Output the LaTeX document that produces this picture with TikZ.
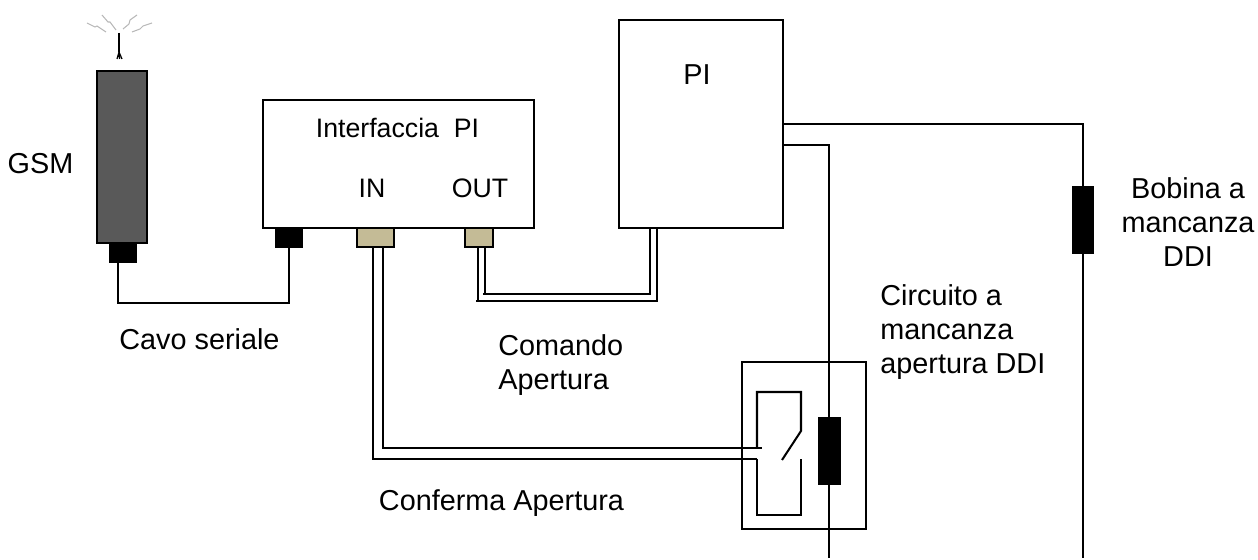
\documentclass[tikz,border=0pt]{standalone}
\usepackage{fontspec}
\setmainfont{Liberation Sans}
\usetikzlibrary{positioning}
\definecolor{gsmGrey}{HTML}{595959}
\definecolor{plugTan}{HTML}{C4BB96}
\definecolor{sparkGrey}{HTML}{B8B8B8}
\tikzset{
  wire/.style      = {black, line width=1.15pt},
  boxnode/.style   = {draw=black, line width=1.15pt, fill=white, inner sep=0pt, outer sep=0pt},
  gsmbody/.style   = {boxnode, fill=gsmGrey, line width=1.6pt},
  blackplug/.style = {draw=none, fill=black, inner sep=0pt, outer sep=0pt},
  tanplug/.style   = {boxnode, fill=plugTan, line width=1.5pt},
  spark/.style     = {sparkGrey, line width=0.6pt},
  lbl/.style       = {font=\fontsize{16.4}{19.2}\selectfont, inner sep=0pt},
  iflbl/.style     = {font=\fontsize{15.2}{18}\selectfont, inner sep=0pt},
}
\begin{document}
\begin{tikzpicture}[x=0.02cm,y=-0.02cm]
  \useasboundingbox (0,0) rectangle (1258,560);
  % boxes
  \node[gsmbody, minimum width=1cm, minimum height=3.44cm] (gsm) at (122,157) {};
  \node[blackplug, minimum width=0.56cm, minimum height=0.4cm] (gsmplug) at (123,253) {};
  \node[boxnode, minimum width=5.42cm, minimum height=2.56cm] (iface) at (398.5,164) {};
  \node[blackplug, minimum width=0.56cm, minimum height=0.4cm] (ifplug) at (289,238) {};
  \node[tanplug, minimum width=0.74cm, minimum height=0.38cm] (inplug) at (375.5,237.5) {};
  \node[tanplug, minimum width=0.56cm, minimum height=0.38cm] (outplug) at (479,237.5) {};
  \node[boxnode, minimum width=3.28cm, minimum height=4.16cm] (pi) at (701,124) {};
  \node[boxnode, minimum width=2.48cm, minimum height=3.34cm] (circuit) at (804,445.5) {};
  % antenna and sparks
  \coordinate (anttop) at (119,33); \coordinate (antfork) at (119,52);
  \draw[black, line width=1.2pt] (anttop) -- (antfork);
  \draw[black, line width=0.7pt] (antfork) -- (117,59) (antfork) -- (119.5,59) (antfork) -- (122,59);
  \draw[spark] (87,23) -- (95,27) -- (97,26) -- (106,32);
  \draw[spark] (102,15) -- (108,22) -- (110,22) -- (116,30);
  \draw[spark] (137,15) -- (130,20) -- (129,24) -- (123,29);
  \draw[spark] (152,23) -- (143,26) -- (140,29) -- (132,32);
  % serial cable
  \draw[wire] ([xshift=-0.1cm]gsmplug.south) -- ++(0,40) -| (ifplug.south);
  % open command
  \coordinate (cmdOuter) at (657,301); \coordinate (cmdInner) at (650,294);
  \draw[wire] ([xshift=-0.02cm]outplug.south) -- ++(0,54);
  \draw[wire] ([xshift=0.12cm]outplug.south) -- ++(0,47);
  \draw[wire] (476,301) -- (cmdOuter) -- (cmdOuter |- pi.south);
  \draw[wire] (483,294) -- (cmdInner) -- (cmdInner |- pi.south);
  % relay
  \coordinate (relayTL) at (757,392); \coordinate (relayTR) at (801,392);
  \coordinate (relayBL) at (757,515); \coordinate (relayBR) at (801,515);
  \draw[wire] (757,448) -- (relayTL) -- (relayTR) -- (801,431) -- (782,460);
  \draw[wire] (757,459) -- (relayBL) -- (relayBR) -- (801,459);
  % open confirm
  \draw[wire] ([xshift=-0.05cm]inplug.south) |- (757,459);
  \draw[wire] ([xshift=0.15cm]inplug.south) |- (762,448);
  % coils and lines from PI
  \node[blackplug, minimum width=0.46cm, minimum height=1.36cm] (coilA) at (829,451) {};
  \node[blackplug, minimum width=0.44cm, minimum height=1.36cm] (coilB) at (1083,220) {};
  \coordinate (endA) at (829,558); \coordinate (endB) at (1083,558);
  \draw[wire] ([yshift=-0.42cm]pi.east) -| (coilA.north);
  \draw[wire] (coilA.south) -- (endA);
  \draw[wire] (pi.east) -| (coilB.north);
  \draw[wire] (coilB.south) -- (endB);
  % labels
  \node[lbl] (gsmlbl) at (40.5,164) {GSM};
  \node[iflbl] (ifacelbl) at (397.5,128) {Interfaccia\ \ PI};
  \node[iflbl] (inlbl) at (372,188.5) {IN};
  \node[iflbl] (outlbl) at (480,188.5) {OUT};
  \node[lbl] (pilbl) at (697,75) {PI};
  \node[lbl] (cavolbl) at (199.5,339) {Cavo seriale};
  \node[lbl, align=left, anchor=west] (comlbl) at (498,365) {Comando\\Apertura};
  \node[lbl] (conflbl) at (501.5,503) {Conferma Apertura};
  \node[lbl, align=left, anchor=west] (circlbl) at (880,332) {Circuito a\\mancanza\\apertura DDI};
  \node[lbl, align=center] (boblbl) at (1188,222) {Bobina a\\mancanza\\DDI};
\end{tikzpicture}
\end{document}
